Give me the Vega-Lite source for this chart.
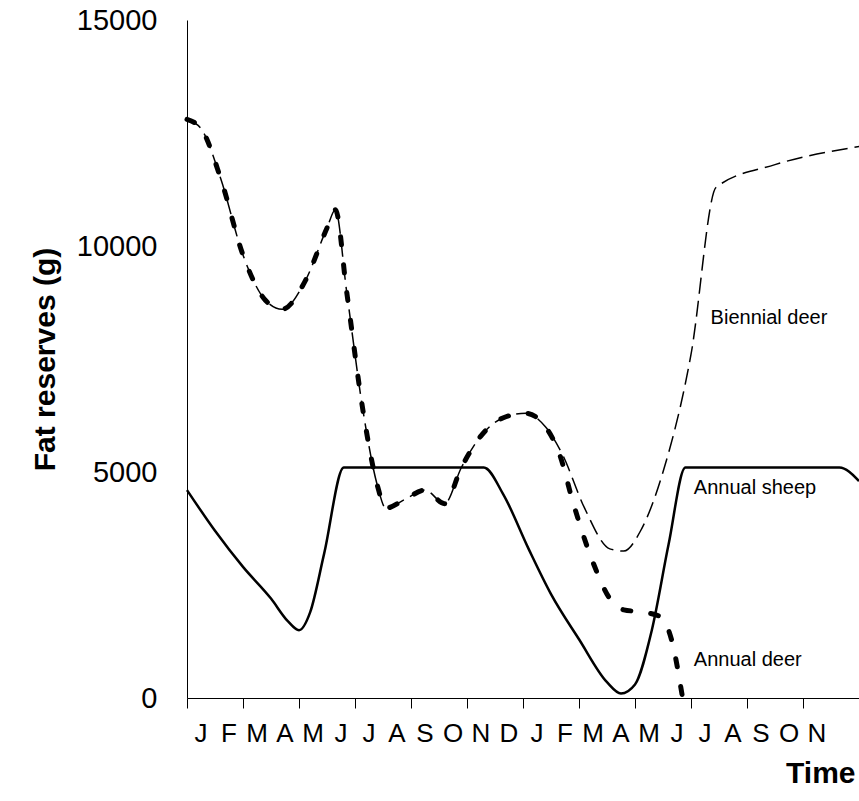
{
  "$schema": "https://vega.github.io/schema/vega-lite/v6.json",
  "width": 672,
  "height": 678,
  "autosize": "none",
  "padding": {"left": 187, "top": 20, "right": 0, "bottom": 103},
  "background": "white",
  "config": {"font": "Liberation Sans", "view": {"stroke": null}},
  "datasets": {
    "lines": [
      {"t": 0, "v": 4600, "s": "sheep"}, {"t": 1, "v": 3700, "s": "sheep"}, {"t": 2, "v": 2900, "s": "sheep"},
      {"t": 3, "v": 2200, "s": "sheep"}, {"t": 3.6, "v": 1700, "s": "sheep"}, {"t": 4.0, "v": 1500, "s": "sheep"},
      {"t": 4.4, "v": 1900, "s": "sheep"}, {"t": 4.9, "v": 3200, "s": "sheep"}, {"t": 5.6, "v": 5100, "s": "sheep"},
      {"t": 10.6, "v": 5100, "s": "sheep"}, {"t": 11.3, "v": 4500, "s": "sheep"}, {"t": 12.2, "v": 3300, "s": "sheep"},
      {"t": 13, "v": 2300, "s": "sheep"}, {"t": 14, "v": 1300, "s": "sheep"}, {"t": 15, "v": 350, "s": "sheep"},
      {"t": 15.5, "v": 100, "s": "sheep"}, {"t": 16, "v": 300, "s": "sheep"}, {"t": 16.6, "v": 1500, "s": "sheep"},
      {"t": 17.2, "v": 3400, "s": "sheep"}, {"t": 17.8, "v": 5100, "s": "sheep"}, {"t": 23.3, "v": 5100, "s": "sheep"},
      {"t": 24, "v": 4800, "s": "sheep"},

      {"t": 0, "v": 12800, "s": "biennial"}, {"t": 0.5, "v": 12600, "s": "biennial"}, {"t": 1.2, "v": 11500, "s": "biennial"},
      {"t": 2, "v": 9800, "s": "biennial"}, {"t": 2.8, "v": 8800, "s": "biennial"}, {"t": 3.4, "v": 8600, "s": "biennial"},
      {"t": 4.2, "v": 9200, "s": "biennial"}, {"t": 5.0, "v": 10400, "s": "biennial"}, {"t": 5.3, "v": 10800, "s": "biennial"},
      {"t": 5.7, "v": 9000, "s": "biennial"}, {"t": 6.3, "v": 6300, "s": "biennial"}, {"t": 6.8, "v": 4700, "s": "biennial"},
      {"t": 7.1, "v": 4200, "s": "biennial"}, {"t": 7.8, "v": 4400, "s": "biennial"}, {"t": 8.5, "v": 4600, "s": "biennial"},
      {"t": 9.2, "v": 4300, "s": "biennial"}, {"t": 9.8, "v": 5100, "s": "biennial"}, {"t": 10.5, "v": 5800, "s": "biennial"},
      {"t": 11.3, "v": 6200, "s": "biennial"}, {"t": 12.1, "v": 6300, "s": "biennial"}, {"t": 12.8, "v": 6000, "s": "biennial"},
      {"t": 13.4, "v": 5400, "s": "biennial"}, {"t": 14.2, "v": 4200, "s": "biennial"}, {"t": 15.1, "v": 3300, "s": "biennial"},
      {"t": 15.6, "v": 3250, "s": "biennial"}, {"t": 16.2, "v": 3700, "s": "biennial"}, {"t": 17, "v": 5000, "s": "biennial"},
      {"t": 18, "v": 7600, "s": "biennial"}, {"t": 18.9, "v": 11300, "s": "biennial"}, {"t": 21, "v": 11800, "s": "biennial"},
      {"t": 24, "v": 12200, "s": "biennial"},

      {"t": 0, "v": 12800, "s": "deer"}, {"t": 0.5, "v": 12600, "s": "deer"}, {"t": 1.2, "v": 11500, "s": "deer"},
      {"t": 2, "v": 9800, "s": "deer"}, {"t": 2.8, "v": 8800, "s": "deer"}, {"t": 3.4, "v": 8600, "s": "deer"},
      {"t": 4.2, "v": 9200, "s": "deer"}, {"t": 5.0, "v": 10400, "s": "deer"}, {"t": 5.3, "v": 10800, "s": "deer"},
      {"t": 5.7, "v": 9000, "s": "deer"}, {"t": 6.3, "v": 6300, "s": "deer"}, {"t": 6.8, "v": 4700, "s": "deer"},
      {"t": 7.1, "v": 4200, "s": "deer"}, {"t": 7.8, "v": 4400, "s": "deer"}, {"t": 8.5, "v": 4600, "s": "deer"},
      {"t": 9.2, "v": 4300, "s": "deer"}, {"t": 9.8, "v": 5100, "s": "deer"}, {"t": 10.5, "v": 5800, "s": "deer"},
      {"t": 11.3, "v": 6200, "s": "deer"}, {"t": 12.1, "v": 6300, "s": "deer"}, {"t": 12.8, "v": 6000, "s": "deer"},
      {"t": 13.3, "v": 5400, "s": "deer"}, {"t": 13.8, "v": 4300, "s": "deer"}, {"t": 14.5, "v": 3000, "s": "deer"},
      {"t": 15.1, "v": 2200, "s": "deer"}, {"t": 15.6, "v": 1950, "s": "deer"}, {"t": 16.3, "v": 1900, "s": "deer"},
      {"t": 16.9, "v": 1800, "s": "deer"}, {"t": 17.3, "v": 1300, "s": "deer"}, {"t": 17.7, "v": 0, "s": "deer"}
    ],
    "labels": [
      {"t": 18.7, "v": 8400, "txt": "Biennial deer"},
      {"t": 18.1, "v": 4650, "txt": "Annual sheep"},
      {"t": 18.1, "v": 850, "txt": "Annual deer"}
    ],
    "months": [
      {"t": 0.5, "m": "J"}, {"t": 1.5, "m": "F"}, {"t": 2.5, "m": "M"}, {"t": 3.5, "m": "A"}, {"t": 4.5, "m": "M"}, {"t": 5.5, "m": "J"},
      {"t": 6.5, "m": "J"}, {"t": 7.5, "m": "A"}, {"t": 8.5, "m": "S"}, {"t": 9.5, "m": "O"}, {"t": 10.5, "m": "N"}, {"t": 11.5, "m": "D"},
      {"t": 12.5, "m": "J"}, {"t": 13.5, "m": "F"}, {"t": 14.5, "m": "M"}, {"t": 15.5, "m": "A"}, {"t": 16.5, "m": "M"}, {"t": 17.5, "m": "J"},
      {"t": 18.5, "m": "J"}, {"t": 19.5, "m": "A"}, {"t": 20.5, "m": "S"}, {"t": 21.5, "m": "O"}, {"t": 22.5, "m": "N"}
    ]
  },
  "layer": [
    {
      "data": {"name": "months"},
      "mark": {"type": "text", "fontSize": 26, "baseline": "middle", "dy": 36},
      "encoding": {
        "x": {"field": "t", "type": "quantitative", "scale": {"domain": [0, 24], "nice": false},
          "axis": {"values": [0,1,2,3,4,5,6,7,8,9,10,11,12,13,14,15,16,17,18,19,20,21,22,23,24], "labels": false, "tickSize": 10, "tickColor": "black", "domainColor": "black", "grid": false,
            "title": "Time", "titleFontSize": 30, "titleFontWeight": "bold", "titleX": 668, "titleAlign": "right", "titleAnchor": "end", "titlePadding": 50, "titleColor": "black"}},
        "y": {"datum": 0, "type": "quantitative", "scale": {"domain": [0, 15000], "nice": false},
          "axis": {"values": [0, 5000, 10000, 15000], "format": "d", "tickSize": 0, "labelFontSize": 29, "labelPadding": 30, "labelColor": "black", "domainColor": "black", "grid": false,
            "title": "Fat reserves (g)", "titleFontSize": 30, "titleFontWeight": "bold", "titlePadding": 16, "titleColor": "black"}},
        "text": {"field": "m"}
      }
    },
    {
      "mark": {"type": "rule", "color": "black", "strokeWidth": 1.5},
      "encoding": {"y": {"datum": 15000, "type": "quantitative"}}
    },
    {
      "data": {"name": "lines"},
      "transform": [{"filter": "datum.s == 'sheep'"}],
      "mark": {"type": "line", "color": "black", "strokeWidth": 2.5, "interpolate": "monotone"},
      "encoding": {"x": {"field": "t", "type": "quantitative"}, "y": {"field": "v", "type": "quantitative"}}
    },
    {
      "data": {"name": "lines"},
      "transform": [{"filter": "datum.s == 'biennial'"}],
      "mark": {"type": "line", "color": "black", "strokeWidth": 1.5, "strokeDash": [16, 7], "interpolate": "monotone"},
      "encoding": {"x": {"field": "t", "type": "quantitative"}, "y": {"field": "v", "type": "quantitative"}}
    },
    {
      "data": {"name": "lines"},
      "transform": [{"filter": "datum.s == 'deer'"}],
      "mark": {"type": "line", "color": "black", "strokeWidth": 5, "strokeDash": [8, 20], "strokeCap": "round", "interpolate": "monotone"},
      "encoding": {"x": {"field": "t", "type": "quantitative"}, "y": {"field": "v", "type": "quantitative"}}
    },
    {
      "data": {"name": "labels"},
      "mark": {"type": "text", "fontSize": 20, "align": "left", "baseline": "middle", "color": "black"},
      "encoding": {"x": {"field": "t", "type": "quantitative"}, "y": {"field": "v", "type": "quantitative"}, "text": {"field": "txt"}}
    }
  ]
}
